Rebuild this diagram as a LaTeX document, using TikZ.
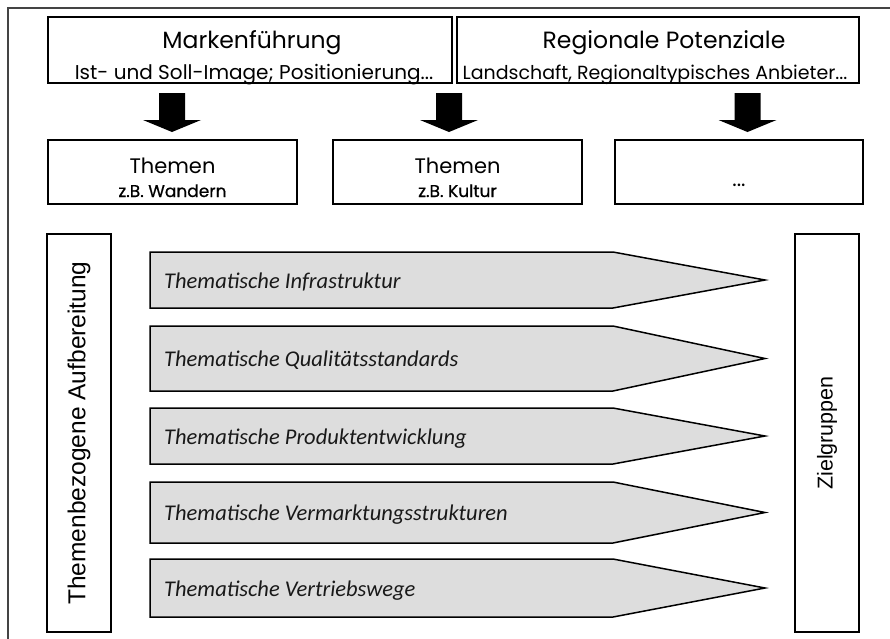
\documentclass[tikz,border=0pt]{standalone}
\usepackage{fontspec}
\newfontfamily\geo{Poppins}
\newfontfamily\geob[FakeBold=0.6]{Poppins}
\newfontfamily\hum{Carlito}
\newfontfamily\ari{Liberation Sans}
\definecolor{sig}{HTML}{DDDDDD}
\definecolor{frame}{HTML}{444444}
\begin{document}
\begin{tikzpicture}[x=1pt,y=-1pt,
  box/.style={draw=black,line width=1.6pt,fill=white,inner sep=0pt},
  sigshape/.style={draw=black,line width=1.5pt,fill=sig,line join=miter},
  blk/.style={fill=black},
  ttl/.style={font=\geo\fontsize{23.5}{23.5}\selectfont,anchor=base,inner sep=0pt},
  sub/.style={font=\geo\fontsize{20}{20}\selectfont,anchor=base,inner sep=0pt},
  thm/.style={font=\geo\fontsize{21}{21}\selectfont,anchor=base,inner sep=0pt},
  thmsub/.style={font=\geob\fontsize{17}{17}\selectfont,anchor=base,inner sep=0pt},
  sigtxt/.style={font=\hum\itshape\fontsize{22.5}{22.5}\selectfont,anchor=base west,inner sep=0pt,text=black!90},
  vtxt/.style={font=\ari\fontsize{22.5}{22.5}\selectfont,rotate=90,inner sep=0pt}
]
\useasboundingbox (0,0) rectangle (890,638);
\begin{scope}
  \clip (0,0) rectangle (890,638);
  \draw[line width=1.3pt,frame] (8,660) -- (8,8) -- (900,8);
\end{scope}

% top boxes
\node[box,minimum width=404pt,minimum height=66pt] (mark) at (250,50) {};
\node[box,minimum width=402pt,minimum height=66pt] (reg) at (658,50) {};
\node[ttl] (markt) at (252,48) {Markenführung};
\node[sub] (marks) at (254,79) {Ist- und Soll-Image; Positionierung...};
\node[ttl] (regt) at (664,48) {Regionale Potenziale};
\node[sub,font=\geo\fontsize{19}{19}\selectfont] (regs) at (655,79) {Landschaft, Regionaltypisches Anbieter...};

% block arrows
\newcommand\blockarrow[1]{%
  \fill[blk] ({#1-13},93) -- ({#1+13},93) -- ({#1+13},120) -- ({#1+29},120)
    -- (#1,132) -- ({#1-29},120) -- ({#1-13},120) -- cycle;}
\blockarrow{172}
\blockarrow{449}
\blockarrow{747.5}

% Themen boxes
\node[box,minimum width=249pt,minimum height=64pt] (t1) at (172.5,172) {};
\node[box,minimum width=249pt,minimum height=64pt] (t2) at (457.5,172) {};
\node[box,minimum width=248pt,minimum height=64pt] (t3) at (739,172) {};
\node[thm] (t1a) at (t1.center |- 0,173) {Themen};
\node[thmsub] (t1b) at (t1.center |- 0,197) {z.B. Wandern};
\node[thm] (t2a) at (t2.center |- 0,173) {Themen};
\node[thmsub] (t2b) at (t2.center |- 0,197) {z.B. Kultur};
\node[thm] (t3a) at (t3.center |- 0,186) {...};

% vertical boxes
\node[box,minimum width=64pt,minimum height=398pt] (auf) at (79,433) {};
\node[vtxt,font=\ari\fontsize{24.5}{24.5}\selectfont] (auft) at (auf.center) {Themenbezogene Aufbereitung};
\node[box,minimum width=64pt,minimum height=398pt] (ziel) at (827,433) {};
\node[vtxt,font=\ari\fontsize{21.5}{21.5}\selectfont] (zielt) at (ziel.center) {Zielgruppen};

% signal arrows
\newcommand\sigarrow[4]{%
  \draw[sigshape] (150,#1) -- (613,#1) -- (765,{(#1+#2)/2}) -- (613,#2) -- (150,#2) -- cycle;
  \node[sigtxt] (#3) at (164,{(#1+#2)/2+8}) {#4};}
\sigarrow{252}{308}{s1}{Thematische Infrastruktur}
\sigarrow{326}{391}{s2}{Thematische Qualitätsstandards}
\sigarrow{408}{464}{s3}{Thematische Produktentwicklung}
\sigarrow{482}{543}{s4}{Thematische Vermarktungsstrukturen}
\sigarrow{559}{617}{s5}{Thematische Vertriebswege}
\end{tikzpicture}
\end{document}
